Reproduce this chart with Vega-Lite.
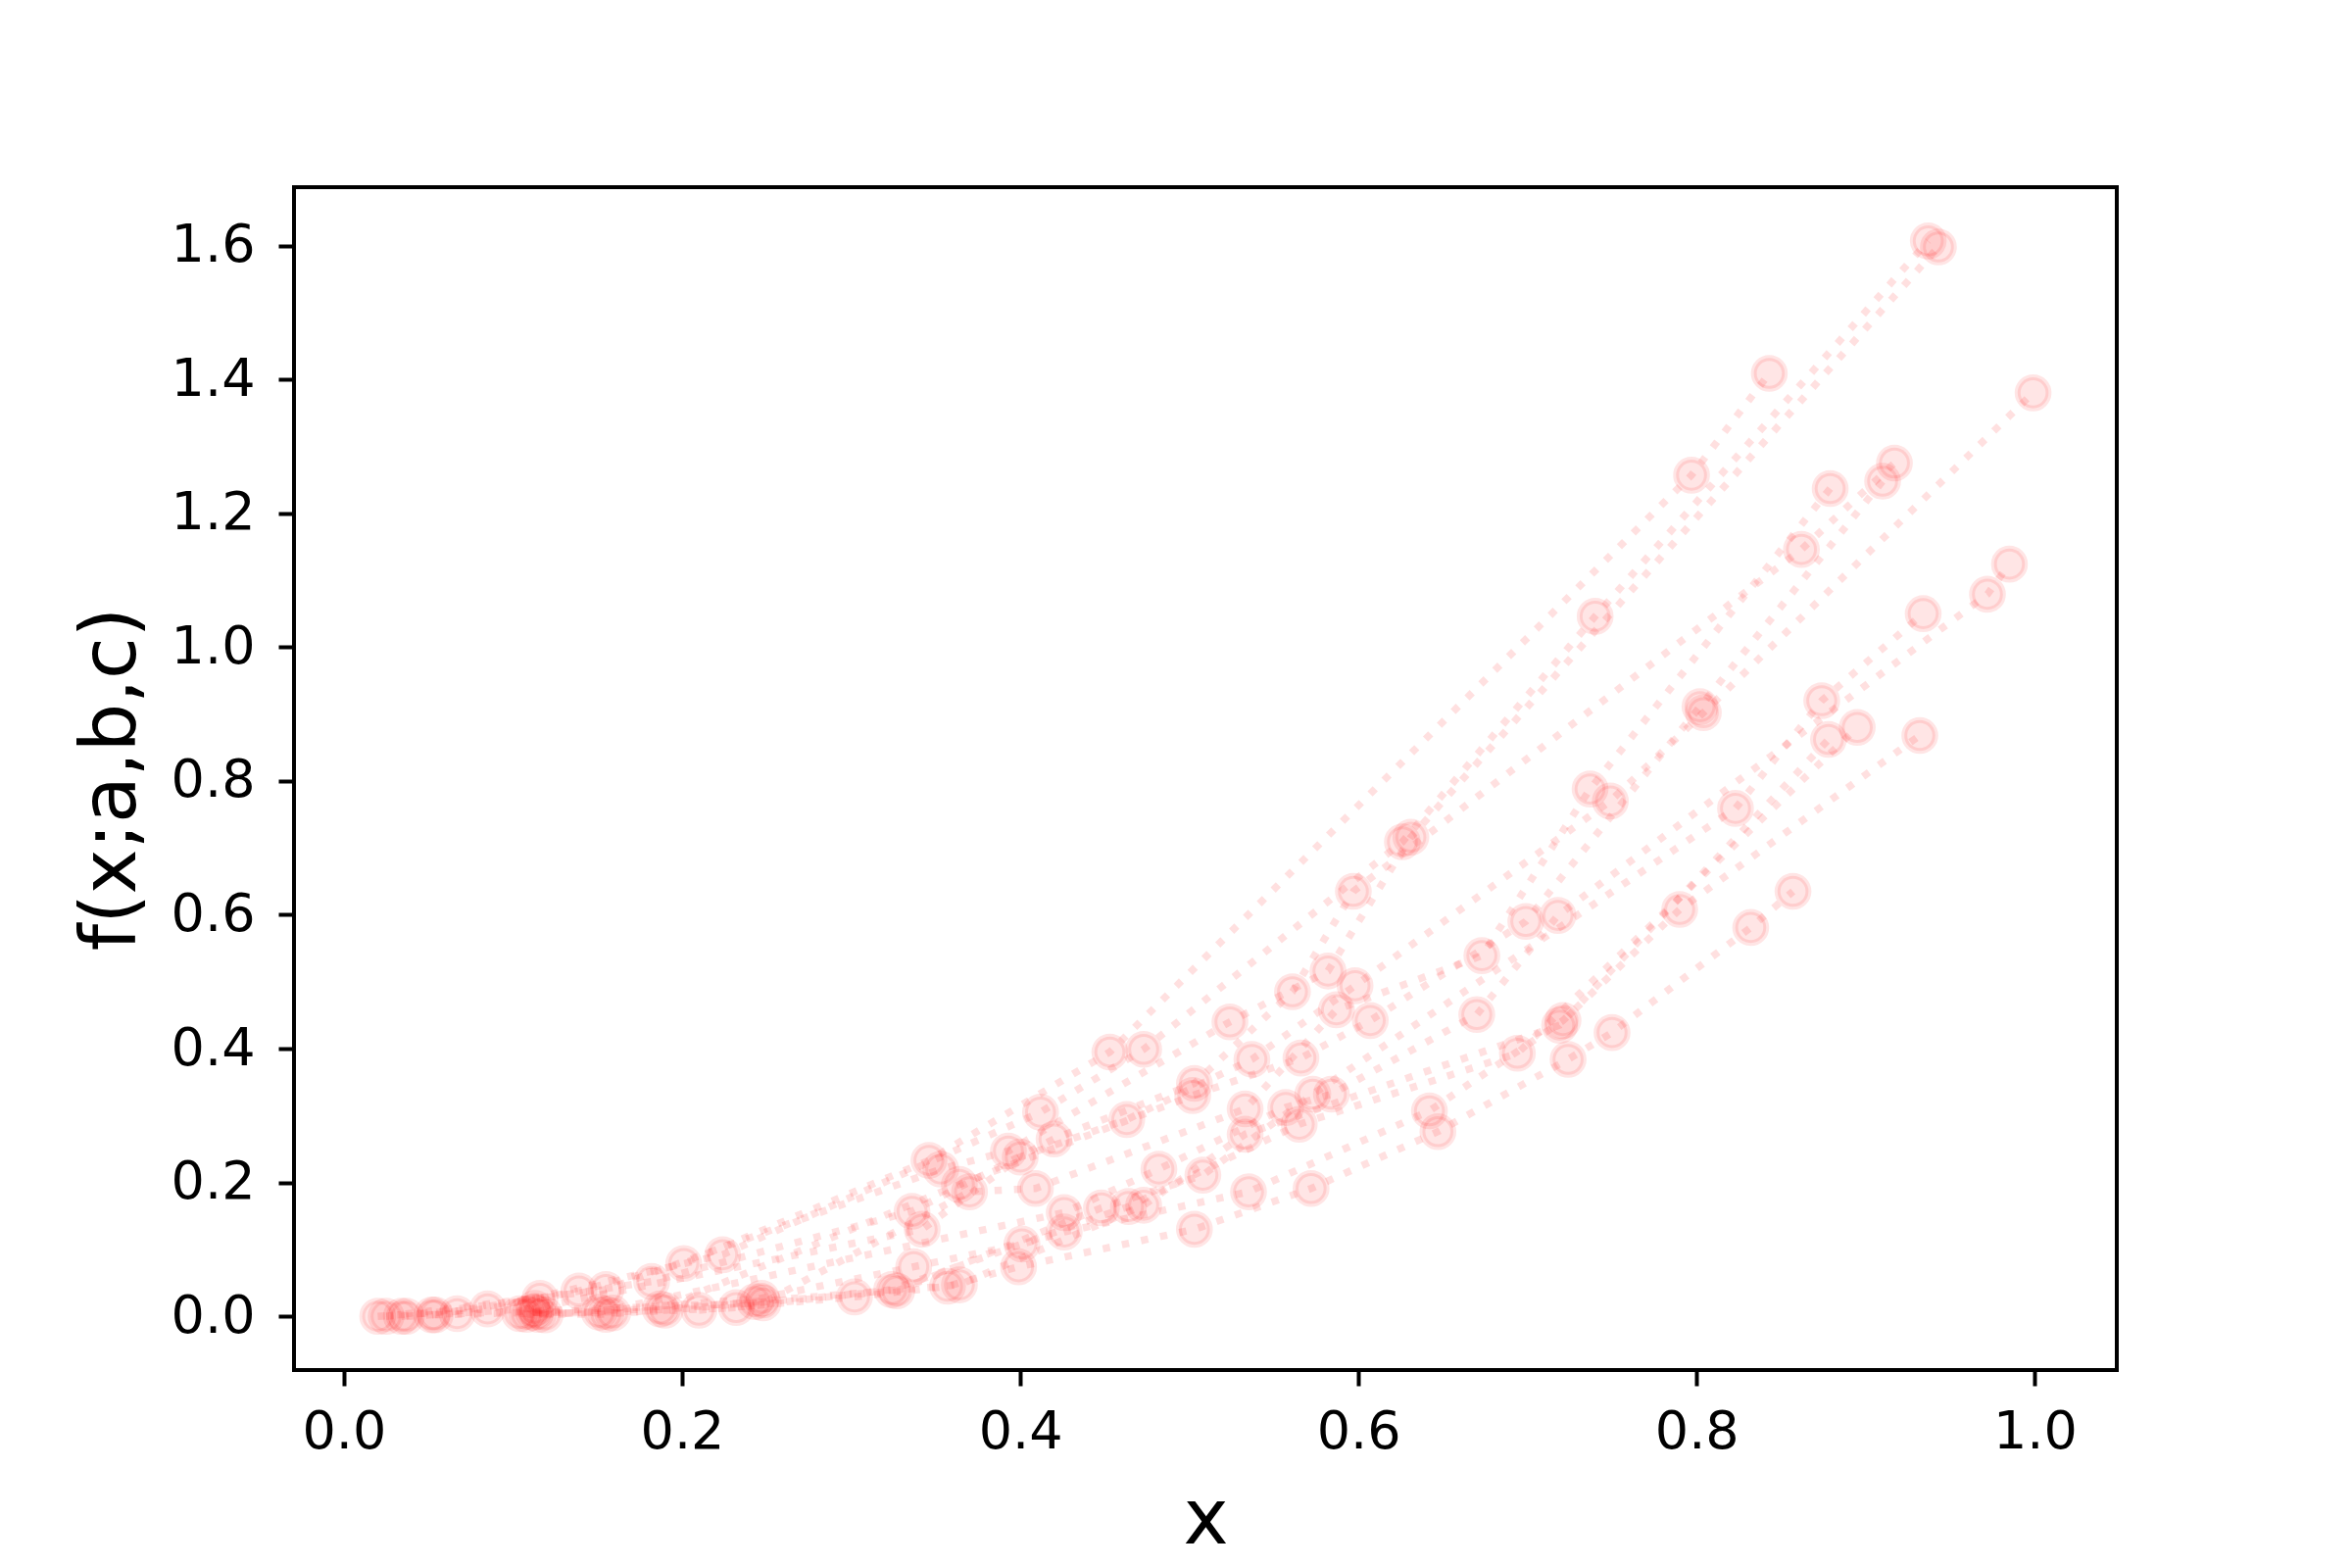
{
  "$schema": "https://vega.github.io/schema/vega-lite/v6.json",
  "width": 1860,
  "height": 1207,
  "autosize": {"type": "none"},
  "padding": {"left": 300, "top": 191, "right": 240, "bottom": 202},
  "background": "white",
  "config": {"view": {"stroke": "#000", "strokeWidth": 4}, "font": "DejaVu Sans"},
  "data": {"values": [
    {"s":1,"x":0.034,"y":0.000},{"s":1,"x":0.116,"y":0.027},{"s":1,"x":0.139,"y":0.038},{"s":1,"x":0.201,"y":0.079},{"s":1,"x":0.346,"y":0.233},{"s":1,"x":0.453,"y":0.395},{"s":1,"x":0.797,"y":1.257},{"s":1,"x":0.843,"y":1.409},
    {"s":2,"x":0.020,"y":0.000},{"s":2,"x":0.085,"y":0.011},{"s":2,"x":0.224,"y":0.092},{"s":2,"x":0.412,"y":0.305},{"s":2,"x":0.473,"y":0.399},{"s":2,"x":0.626,"y":0.709},{"s":2,"x":0.740,"y":1.046},{"s":2,"x":0.937,"y":1.607},
    {"s":3,"x":0.025,"y":0.000},{"s":3,"x":0.155,"y":0.040},{"s":3,"x":0.353,"y":0.220},{"s":3,"x":0.393,"y":0.247},{"s":3,"x":0.524,"y":0.440},{"s":3,"x":0.582,"y":0.516},{"s":3,"x":0.631,"y":0.716},{"s":3,"x":0.943,"y":1.598},
    {"s":4,"x":0.052,"y":0.002},{"s":4,"x":0.182,"y":0.052},{"s":4,"x":0.336,"y":0.157},{"s":4,"x":0.420,"y":0.265},{"s":4,"x":0.503,"y":0.348},{"s":4,"x":0.561,"y":0.485},{"s":4,"x":0.597,"y":0.635},{"s":4,"x":0.862,"y":1.146},{"s":4,"x":0.917,"y":1.275},
    {"s":5,"x":0.037,"y":0.000},{"s":5,"x":0.113,"y":0.012},{"s":5,"x":0.342,"y":0.130},{"s":5,"x":0.400,"y":0.238},{"s":5,"x":0.463,"y":0.294},{"s":5,"x":0.537,"y":0.384},{"s":5,"x":0.598,"y":0.494},{"s":5,"x":0.749,"y":0.770},{"s":5,"x":0.804,"y":0.902},{"s":5,"x":0.999,"y":1.380},
    {"s":6,"x":0.054,"y":0.002},{"s":6,"x":0.187,"y":0.011},{"s":6,"x":0.364,"y":0.197},{"s":6,"x":0.502,"y":0.330},{"s":6,"x":0.566,"y":0.386},{"s":6,"x":0.607,"y":0.442},{"s":6,"x":0.699,"y":0.590},{"s":6,"x":0.802,"y":0.911},{"s":6,"x":0.910,"y":1.248},
    {"s":7,"x":0.104,"y":0.004},{"s":7,"x":0.151,"y":0.006},{"s":7,"x":0.426,"y":0.155},{"s":7,"x":0.482,"y":0.220},{"s":7,"x":0.557,"y":0.312},{"s":7,"x":0.584,"y":0.332},{"s":7,"x":0.670,"y":0.451},{"s":7,"x":0.718,"y":0.599},{"s":7,"x":0.972,"y":1.079},{"s":7,"x":0.985,"y":1.124},
    {"s":8,"x":0.108,"y":0.003},{"s":8,"x":0.190,"y":0.009},{"s":8,"x":0.327,"y":0.038},{"s":8,"x":0.448,"y":0.162},{"s":8,"x":0.508,"y":0.211},{"s":8,"x":0.573,"y":0.332},{"s":8,"x":0.823,"y":0.759},{"s":8,"x":0.874,"y":0.920},{"s":8,"x":0.934,"y":1.050},
    {"s":9,"x":0.112,"y":0.006},{"s":9,"x":0.159,"y":0.005},{"s":9,"x":0.232,"y":0.013},{"s":9,"x":0.324,"y":0.040},{"s":9,"x":0.464,"y":0.164},{"s":9,"x":0.565,"y":0.287},{"s":9,"x":0.694,"y":0.393},{"s":9,"x":0.895,"y":0.880},
    {"s":10,"x":0.119,"y":0.002},{"s":10,"x":0.247,"y":0.027},{"s":10,"x":0.337,"y":0.074},{"s":10,"x":0.401,"y":0.108},{"s":10,"x":0.426,"y":0.126},{"s":10,"x":0.535,"y":0.186},{"s":10,"x":0.642,"y":0.307},{"s":10,"x":0.721,"y":0.442},{"s":10,"x":0.790,"y":0.608},{"s":10,"x":0.932,"y":0.868},
    {"s":11,"x":0.210,"y":0.009},{"s":11,"x":0.302,"y":0.029},{"s":11,"x":0.357,"y":0.045},{"s":11,"x":0.399,"y":0.074},{"s":11,"x":0.503,"y":0.130},{"s":11,"x":0.572,"y":0.191},{"s":11,"x":0.647,"y":0.276},{"s":11,"x":0.724,"y":0.384},{"s":11,"x":0.750,"y":0.424},{"s":11,"x":0.832,"y":0.581},{"s":11,"x":0.857,"y":0.635},
    {"s":12,"x":0.115,"y":0.003},{"s":12,"x":0.155,"y":0.003},{"s":12,"x":0.243,"y":0.022},{"s":12,"x":0.364,"y":0.047},{"s":12,"x":0.473,"y":0.166},{"s":12,"x":0.533,"y":0.272},{"s":12,"x":0.719,"y":0.435},{"s":12,"x":0.878,"y":0.862},
    {"s":13,"x":0.067,"y":0.004},{"s":13,"x":0.248,"y":0.020},{"s":13,"x":0.370,"y":0.186},{"s":13,"x":0.409,"y":0.191},{"s":13,"x":0.533,"y":0.310},{"s":13,"x":0.587,"y":0.458},{"s":13,"x":0.673,"y":0.539},{"s":13,"x":0.737,"y":0.788},{"s":13,"x":0.879,"y":1.237}
  ]},
  "encoding": {
    "x": {
      "field": "x", "type": "quantitative",
      "scale": {"domain": [-0.0295, 1.0485], "nice": false, "zero": false},
      "axis": {
        "values": [0, 0.2, 0.4, 0.6, 0.8, 1.0], "format": ".1f", "title": "x",
        "grid": false, "domain": false,
        "tickColor": "#000", "tickWidth": 4, "tickSize": 16,
        "labelFont": "DejaVu Sans", "labelFontSize": 54, "labelColor": "#000", "labelPadding": 20,
        "titleFont": "DejaVu Sans", "titleFontSize": 78, "titleFontWeight": "normal", "titleColor": "#000",
        "titleBaseline": "alphabetic", "titleY": 176
      }
    },
    "y": {
      "field": "y", "type": "quantitative",
      "scale": {"domain": [-0.0803, 1.6873], "nice": false, "zero": false},
      "axis": {
        "values": [0, 0.2, 0.4, 0.6, 0.8, 1.0, 1.2, 1.4, 1.6], "format": ".1f", "title": "f(x;a,b,c)",
        "grid": false, "domain": false,
        "tickColor": "#000", "tickWidth": 4, "tickSize": 16,
        "labelFont": "DejaVu Sans", "labelFontSize": 54, "labelColor": "#000", "labelPadding": 24,
        "titleFont": "DejaVu Sans", "titleFontSize": 78, "titleFontWeight": "normal", "titleColor": "#000",
        "titleAngle": -90, "titleAlign": "center", "titleBaseline": "alphabetic", "titleX": -163, "titleY": 603.5
      }
    }
  },
  "layer": [
    {
      "mark": {"type": "line", "color": "red", "opacity": 1, "strokeOpacity": 0.12, "strokeWidth": 7.5, "strokeDash": [7.5, 12.4], "strokeCap": "butt", "clip": true},
      "encoding": {"detail": {"field": "s", "type": "nominal"}}
    },
    {
      "mark": {"type": "point", "shape": "circle", "filled": true, "opacity": 1, "fill": "red", "fillOpacity": 0.1, "stroke": "red", "strokeOpacity": 0.1, "strokeWidth": 6, "size": 1000}
    }
  ]
}
